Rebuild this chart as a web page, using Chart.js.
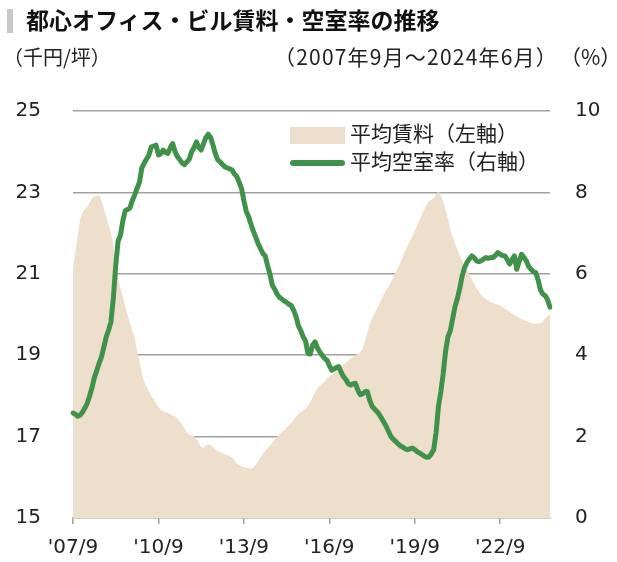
<!DOCTYPE html>
<html>
<head>
<meta charset="utf-8">
<script src="https://cdn.jsdelivr.net/npm/chart.js@4"></script>
<style>
  html, body { margin: 0; padding: 0; background: #fff; }
  #wrap { position: relative; width: 617px; height: 562px; overflow: hidden; font-family: "Noto Sans CJK JP", sans-serif; color: #222; }
  #chart { position: absolute; left: 0; top: 0; }
  .bar { position: absolute; left: 7px; top: 9px; width: 6px; height: 24px; background: #c8c8c8; }
  .title { position: absolute; left: 26px; top: 2px; font-size: 23px; font-weight: bold; white-space: nowrap; color: #111; }
  .unit { position: absolute; top: 42px; font-size: 20px; white-space: nowrap; }
  .legend { position: absolute; left: 290px; font-size: 21px; line-height: 28px; white-space: nowrap; }
  .legend i { display: inline-block; width: 55px; vertical-align: middle; margin-right: 5px; }
</style>
</head>
<body>
<div id="wrap">
  <canvas id="chart" width="617" height="562"></canvas>
  <div class="bar"></div>
  <div class="title">都心オフィス・ビル賃料・空室率の推移</div>
  <div class="unit" style="left:3px">（千円/坪）</div>
  <div class="unit" style="left:274px;font-size:21px;top:41px;letter-spacing:1.2px">（2007年9月～2024年6月）</div>
  <div class="unit" style="left:560px;font-size:21px;top:41px">（%）</div>
  <div class="legend" style="top:118px"><i style="height:17px;background:#eddfcc"></i>平均賃料（左軸）</div>
  <div class="legend" style="top:146px"><i style="height:6px;border-radius:3px;background:#40924a"></i>平均空室率（右軸）</div>
</div>
<script>
// monthly, 2007/9 .. 2024/6
const startYear = 2007, startMonth = 9, monthCount = 202;
const tickLabels = ["'07/9", "'10/9", "'13/9", "'16/9", "'19/9", "'22/9"];

// 平均賃料 (千円/坪)
const rent = [
  21.15, 21.55, 21.95, 22.35,
  22.50, 22.58, 22.65, 22.75, 22.85, 22.90, 22.92, 22.93, 22.80, 22.60, 22.40, 22.20,
  22.00, 21.70, 21.15, 20.90, 20.65, 20.45, 20.20, 19.98, 19.80, 19.60, 19.45, 19.10,
  18.85, 18.55, 18.35, 18.22, 18.10, 18.00, 17.92, 17.82, 17.72, 17.66, 17.62, 17.60,
  17.58, 17.55, 17.52, 17.50, 17.45, 17.38, 17.30, 17.20, 17.10, 17.05, 17.02, 17.00,
  16.95, 16.85, 16.75, 16.72, 16.78, 16.80, 16.80, 16.75, 16.68, 16.64, 16.62, 16.60,
  16.56, 16.54, 16.52, 16.48, 16.42, 16.34, 16.30, 16.28, 16.25, 16.24, 16.22, 16.21,
  16.24, 16.30, 16.40, 16.50, 16.58, 16.65, 16.72, 16.78, 16.85, 16.93, 16.98, 17.05,
  17.12, 17.15, 17.22, 17.28, 17.33, 17.42, 17.50, 17.56, 17.60, 17.65, 17.70, 17.75,
  17.85, 17.97, 18.10, 18.18, 18.25, 18.30, 18.35, 18.42, 18.48, 18.52, 18.57, 18.62,
  18.67, 18.72, 18.77, 18.82, 18.86, 18.92, 18.96, 19.00, 19.03, 19.07, 19.15, 19.35,
  19.55, 19.75, 19.90, 20.02, 20.14, 20.25, 20.38, 20.50, 20.60, 20.68, 20.80, 20.92,
  21.05, 21.15, 21.28, 21.42, 21.56, 21.68, 21.80, 21.92, 22.05, 22.18, 22.32, 22.46,
  22.58, 22.70, 22.78, 22.82, 22.86, 22.96, 23.02, 22.92, 22.78, 22.55, 22.35, 22.10,
  21.90, 21.74, 21.60, 21.45, 21.32, 21.20, 21.08, 20.97, 20.88, 20.76, 20.66, 20.56,
  20.48, 20.42, 20.38, 20.34, 20.30, 20.28, 20.26, 20.24, 20.22, 20.18, 20.14, 20.10,
  20.06, 20.02, 19.98, 19.95, 19.92, 19.89, 19.86, 19.84, 19.82, 19.80, 19.78, 19.77,
  19.78, 19.80, 19.84, 19.90, 19.96, 20.02
];

// 平均空室率 (%)
const vacancy = [
  2.58, 2.55, 2.50, 2.53,
  2.60, 2.70, 2.82, 3.00, 3.20, 3.45, 3.62, 3.80, 3.96, 4.20, 4.45, 4.62,
  4.82, 5.40, 6.20, 6.80, 6.95, 7.30, 7.55, 7.58, 7.62, 7.80, 7.94, 8.10,
  8.25, 8.60, 8.72, 8.82, 8.92, 9.12, 9.14, 9.16, 8.92, 8.95, 9.04, 8.98,
  8.96, 9.10, 9.20, 9.00, 8.88, 8.80, 8.72, 8.68, 8.75, 8.82, 9.00, 9.10,
  9.24, 9.10, 9.04, 9.20, 9.35, 9.43, 9.35, 9.16, 8.95, 8.80, 8.75, 8.68,
  8.63, 8.60, 8.58, 8.55, 8.45, 8.39, 8.25, 8.10, 7.80, 7.54, 7.40, 7.22,
  7.05, 6.90, 6.74, 6.62, 6.50, 6.44, 6.20, 5.99, 5.72, 5.62, 5.50, 5.42,
  5.38, 5.33, 5.30, 5.25, 5.22, 5.10, 4.95, 4.72, 4.60, 4.45, 4.35, 4.04,
  4.03, 4.25, 4.33, 4.18, 4.08, 4.00, 3.92, 3.88, 3.75, 3.63, 3.66, 3.70,
  3.72, 3.58, 3.47, 3.40, 3.30, 3.27, 3.30, 3.31, 3.15, 3.03, 3.05, 3.10,
  3.11, 2.90, 2.75, 2.68, 2.62, 2.55, 2.45, 2.35, 2.25, 2.12, 2.00, 1.93,
  1.88, 1.82, 1.77, 1.74, 1.70, 1.68, 1.70, 1.72, 1.68, 1.63, 1.60, 1.56,
  1.52, 1.49, 1.50, 1.58, 1.68, 2.10, 2.75, 3.10, 3.55, 4.10, 4.45, 4.60,
  4.90, 5.20, 5.40, 5.65, 5.95, 6.15, 6.28, 6.36, 6.44, 6.40, 6.32, 6.30,
  6.32, 6.36, 6.40, 6.38, 6.40, 6.40, 6.45, 6.52, 6.48, 6.45, 6.44, 6.35,
  6.24, 6.35, 6.44, 6.11, 6.30, 6.48, 6.40, 6.32, 6.18, 6.11, 6.05, 6.03,
  5.85, 5.60, 5.50, 5.46, 5.36, 5.18
];

const labels = [];
for (let i = 0; i < monthCount; i++) {
  const t = startYear * 12 + (startMonth - 1) + i;
  const y = Math.floor(t / 12), m = t % 12 + 1;
  labels.push("'" + String(y % 100).padStart(2, '0') + '/' + m);
}

Chart.defaults.font.family = '"DejaVu Sans", Verdana, sans-serif';
Chart.defaults.color = '#222';

new Chart(document.getElementById('chart'), {
  type: 'line',
  data: {
    labels: labels,
    datasets: [{
      label: '平均空室率（右軸）',
      data: vacancy,
      yAxisID: 'y2',
      borderColor: '#40924a',
      borderWidth: 5,
      borderJoinStyle: 'round',
      borderCapStyle: 'round',
      pointRadius: 0,
      tension: 0,
      fill: false,
      order: 0
    }, {
      label: '平均賃料（左軸）',
      data: rent,
      yAxisID: 'y',
      borderWidth: 0,
      backgroundColor: '#eddfcc',
      pointRadius: 0,
      tension: 0,
      fill: 'start',
      order: 1
    }]
  },
  options: {
    responsive: false,
    animation: false,
    layout: { padding: { top: 111, left: 0, right: 0, bottom: 0 } },
    plugins: { legend: { display: false }, tooltip: { enabled: false } },
    scales: {
      x: {
        offset: false,
        afterFit: s => { s.height = 41; },
        border: { color: '#a0a0a0', width: 1.5 },
        grid: { drawOnChartArea: false, drawTicks: true, tickLength: 6, color: '#a0a0a0', lineWidth: 1.5 },
        ticks: {
          autoSkip: false, maxRotation: 0, padding: 12,
          font: { size: 20 },
          callback: (v, i) => tickLabels.includes(labels[i]) ? labels[i] : null
        }
      },
      y: {
        position: 'left',
        min: 15, max: 25,
        afterFit: s => { s.width = 73; },
        border: { display: false },
        grid: { color: ctx => ctx.tick.value === 15 ? 'transparent' : '#a0a0a0', lineWidth: 1.5, drawTicks: false },
        ticks: { stepSize: 2, padding: 32, font: { size: 20 } }
      },
      y2: {
        position: 'right',
        min: 0, max: 10,
        afterFit: s => { s.width = 67; },
        border: { display: false },
        grid: { display: false, drawTicks: false },
        ticks: { stepSize: 2, padding: 25, font: { size: 20 } }
      }
    }
  }
});
</script>
</body>
</html>
